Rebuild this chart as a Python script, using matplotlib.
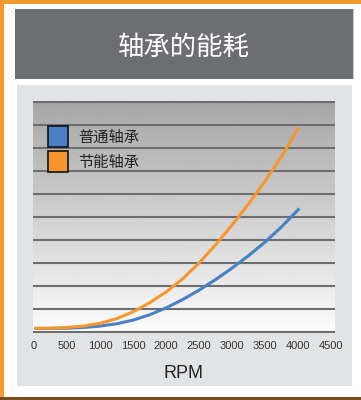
import numpy as np
import matplotlib
matplotlib.use("Agg")
import matplotlib.pyplot as plt
from matplotlib.patches import Rectangle

# ---- data ----
title = "轴承的能耗"
xlabel = "RPM"
series_names = ["普通轴承", "节能轴承"]
rpm = [0, 250, 500, 750, 1000, 1250, 1500, 1750, 2000, 2250, 2500,
       2750, 3000, 3250, 3500, 3750, 4000, 4015]
normal = [0.16, 0.16, 0.17, 0.20, 0.26, 0.36, 0.52, 0.75, 1.05, 1.41, 1.82,
          2.28, 2.78, 3.32, 3.91, 4.57, 5.31, 5.38]
saving = [0.16, 0.17, 0.20, 0.26, 0.38, 0.58, 0.88, 1.27, 1.74, 2.31, 3.00,
          3.79, 4.65, 5.57, 6.56, 7.63, 8.83, 8.90]
xticks = [0, 500, 1000, 1500, 2000, 2500, 3000, 3500, 4000, 4500]
grid_levels = list(range(0, 11))

colors = ["#4a80c5", "#f7962b"]

W, H = 361, 400
fig = plt.figure(figsize=(W / 100, H / 100), dpi=100)
fig.patch.set_facecolor("white")

def box(x0, y0, x1, y1):
    return (x0 / W, 1 - y1 / H, (x1 - x0) / W, (y1 - y0) / H)

def rect(x0, y0, x1, y1, z=-5, **kw):
    l, b, w, h = box(x0, y0, x1, y1)
    fig.patches.append(Rectangle((l, b), w, h, transform=fig.transFigure,
                                 zorder=z, **kw))

# orange frame and shadow
rect(0, 0, W, 3.5, facecolor="#f39a2e", edgecolor="none")
rect(0, 0, 4, 397, facecolor="#f39a2e", edgecolor="none")
rect(0, 396.5, W, H, facecolor="#7a4b1c", edgecolor="none")
# title band
rect(15, 9, 354, 79, facecolor="#c8c9cb", edgecolor="none")
rect(15, 9, 353, 79, facecolor="#6d6e72", edgecolor="none")
# panel
rect(17, 85, 352, 386, facecolor="#e2e3e5", edgecolor="none")

fig.text(184 / W, 1 - 47 / H, title, color="white", fontsize=19,
         family=["Noto Sans CJK SC", "DejaVu Sans"], ha="center", va="center")

# plot axes
ax = fig.add_axes(box(33, 101, 335, 333))
ax.set_zorder(2)
ax.set_xlim(-15, 4560)
ax.set_ylim(-0.04, 10.04)
grad = np.linspace(0.65, 0.99, 256).reshape(-1, 1)
ax.imshow(grad, cmap="gray", vmin=0, vmax=1, aspect="auto",
          extent=(-15, 4560, -0.04, 10.04), origin="upper", zorder=0)
for lv in grid_levels:
    ax.axhline(lv, color="#6e6e71", lw=1.5, zorder=1)
ax.plot(rpm, normal, color=colors[0], lw=2.2, zorder=3,
        solid_capstyle="butt", solid_joinstyle="round")
ax.plot(rpm, saving, color=colors[1], lw=2.2, zorder=3,
        solid_capstyle="butt", solid_joinstyle="round")

for s in ax.spines.values():
    s.set_visible(False)
ax.set_yticks([])
ax.set_xticks(xticks)
ax.set_xticklabels([str(t) for t in xticks], family="Liberation Sans",
                   fontsize=8, color="#333333")
ax.tick_params(axis="x", length=0, pad=6)

fig.text(183 / W, 1 - 373 / H, xlabel, family="Liberation Sans", fontsize=13,
         color="#222222", ha="center", va="center")

# legend
for i, (name, c) in enumerate(zip(series_names, colors)):
    y0 = 126.5 + i * 25
    rect(48, y0, 68, y0 + 20.5, z=10, facecolor=c, edgecolor="#111111", lw=1.2)
    fig.text(78 / W, 1 - (y0 + 10.5) / H, name, fontsize=11, color="#222222",
             family=["Noto Sans CJK SC", "DejaVu Sans"], ha="left", va="center",
             zorder=10)

fig.savefig("out.png", dpi=100)
